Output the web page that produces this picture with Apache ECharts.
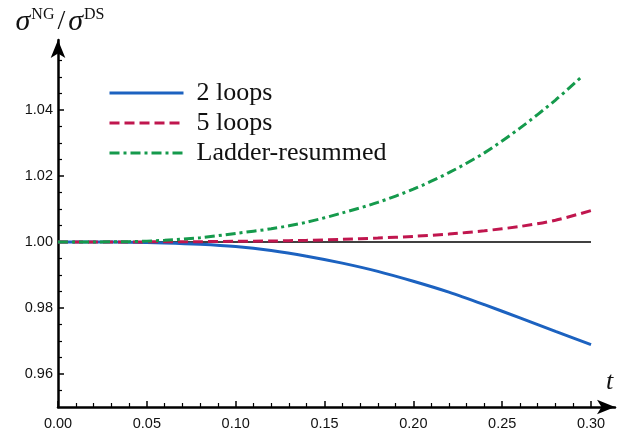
<!DOCTYPE html>
<html>
<head>
<meta charset="utf-8">
<script src="https://cdn.jsdelivr.net/npm/echarts@6/dist/echarts.min.js"></script>
<style>
html,body{margin:0;padding:0;background:#fff;}
#c{width:617px;height:434px;}
</style>
</head>
<body>
<div id="c"></div>
<script>
const tGrid = [0,0.02,0.04,0.06,0.08,0.10,0.12,0.14,0.16,0.18,0.20,0.22,0.24,0.26,0.28,0.30];
const loops2 = [1,0.99999,0.99992,0.9997,0.9993,0.9986,0.9974,0.9957,0.9936,0.9911,0.9881,0.9848,0.9810,0.9770,0.9729,0.9689];
const loops5 = [1,1.0000,1.00002,1.00005,1.0001,1.0002,1.0003,1.0005,1.0008,1.0012,1.0017,1.0024,1.0034,1.0047,1.0066,1.0095];
const tLadder = [0,0.02,0.04,0.06,0.08,0.10,0.12,0.14,0.16,0.18,0.20,0.22,0.24,0.26,0.28,0.294];
const ladder = [1,1.00002,1.0001,1.0005,1.0013,1.0026,1.0040,1.0060,1.0088,1.0120,1.0160,1.0210,1.0270,1.0345,1.0430,1.0497];
const refLineT = [0, 0.30];
const refLineV = [1, 1];
const xMajorTicks = [0,0.05,0.10,0.15,0.20,0.25,0.30];
const xMinorTicks = [0.01,0.02,0.03,0.04,0.06,0.07,0.08,0.09,0.11,0.12,0.13,0.14,0.16,0.17,0.18,0.19,0.21,0.22,0.23,0.24,0.26,0.27,0.28,0.29];
const yMajorTicks = [0.96,0.98,1.00,1.02,1.04];
const yMinorTicks = [0.955,0.965,0.97,0.975,0.985,0.99,0.995,1.005,1.01,1.015,1.025,1.03,1.035,1.045,1.05,1.055];

const zip = (a,b)=>a.map((x,i)=>[x,b[i]]);
const chart = echarts.init(document.getElementById('c'), null, {renderer:'canvas'});

const xBase = {type:'value', min:0, max:0.3135, gridIndex:0, position:'bottom', splitLine:{show:false}};
const yBase = {type:'value', min:0.95, max:1.0612, gridIndex:0, position:'left', splitLine:{show:false}};
const labelFont = {fontFamily:'Liberation Sans, Arial, sans-serif', fontSize:14.5, color:'#111'};
const serif = 'Liberation Serif, serif';

chart.setOption({
  animation:false,
  backgroundColor:'#fff',
  grid:{left:58, top:40, width:557, height:367, containLabel:false},
  legend:{
    orient:'vertical', left:103, top:73, itemWidth:74, itemHeight:14, itemGap:0,
    itemStyle:{opacity:0},
    lineStyle:{width:3},
    textStyle:{fontFamily:serif, fontSize:26, lineHeight:30, color:'#111', padding:[0,0,0,8]},
    data:['2 loops','5 loops','Ladder-resummed']
  },
  xAxis:[
    Object.assign({}, xBase, {
      axisLine:{show:true, lineStyle:{color:'#000', width:2.5}, symbol:['none','arrow'], symbolSize:[11,18]},
      axisTick:{show:true, inside:true, length:6, lineStyle:{color:'#000', width:1.5}, customValues:xMajorTicks},
      axisLabel:{show:true, margin:9, customValues:xMajorTicks, formatter:v=>v.toFixed(2), ...labelFont},
      name:'t', nameLocation:'end', nameGap:-9,
      nameTextStyle:{fontFamily:serif, fontStyle:'italic', fontSize:26, color:'#111', verticalAlign:'bottom', padding:[0,0,12,0]}
    }),
    Object.assign({}, xBase, {
      axisLine:{show:false},
      axisTick:{show:true, inside:true, length:4, lineStyle:{color:'#000', width:1.2}, customValues:xMinorTicks},
      axisLabel:{show:false}
    })
  ],
  yAxis:[
    Object.assign({}, yBase, {
      axisLine:{show:true, lineStyle:{color:'#000', width:2.5}, symbol:['none','arrow'], symbolSize:[11,18]},
      axisTick:{show:true, inside:true, length:6, lineStyle:{color:'#000', width:1.5}, customValues:yMajorTicks},
      axisLabel:{show:true, margin:5, customValues:yMajorTicks, formatter:v=>v.toFixed(2), ...labelFont},
      name:'{s|σ}{sup|NG}{sl|/}{s|σ}{sup|DS}', nameLocation:'end', nameGap:3,
      nameTextStyle:{
        align:'center', padding:[0,0,0,4],
        rich:{
          s:{fontFamily:serif, fontStyle:'italic', fontSize:30, color:'#111'},
          sup:{fontFamily:serif, fontSize:16, color:'#111', verticalAlign:'top', padding:[0,0,10,1]},
          sl:{fontFamily:serif, fontSize:28, color:'#111', padding:[0,3,0,3]}
        }
      }
    }),
    Object.assign({}, yBase, {
      axisLine:{show:false},
      axisTick:{show:true, inside:true, length:4, lineStyle:{color:'#000', width:1.2}, customValues:yMinorTicks},
      axisLabel:{show:false}
    })
  ],
  series:[
    {name:'ref', type:'line', xAxisIndex:0, yAxisIndex:0, data:zip(refLineT, refLineV), symbol:'none', silent:true,
     lineStyle:{color:'#000', width:1.5}, z:1},
    {name:'2 loops', type:'line', xAxisIndex:0, yAxisIndex:0, data:zip(tGrid, loops2), symbol:'none', smooth:0.3,
     itemStyle:{color:'#1c62c0'}, lineStyle:{color:'#1c62c0', width:3}, z:3},
    {name:'5 loops', type:'line', xAxisIndex:0, yAxisIndex:0, data:zip(tGrid, loops5), symbol:'none', smooth:0.3,
     itemStyle:{color:'#c0164e'}, lineStyle:{color:'#c0164e', width:3, type:[10,5]}, z:3},
    {name:'Ladder-resummed', type:'line', xAxisIndex:0, yAxisIndex:0, data:zip(tLadder, ladder), symbol:'none', smooth:0.3,
     itemStyle:{color:'#159a4c'}, lineStyle:{color:'#159a4c', width:3, type:[10,4,3,4]}, z:3}
  ]
});
</script>
</body>
</html>
